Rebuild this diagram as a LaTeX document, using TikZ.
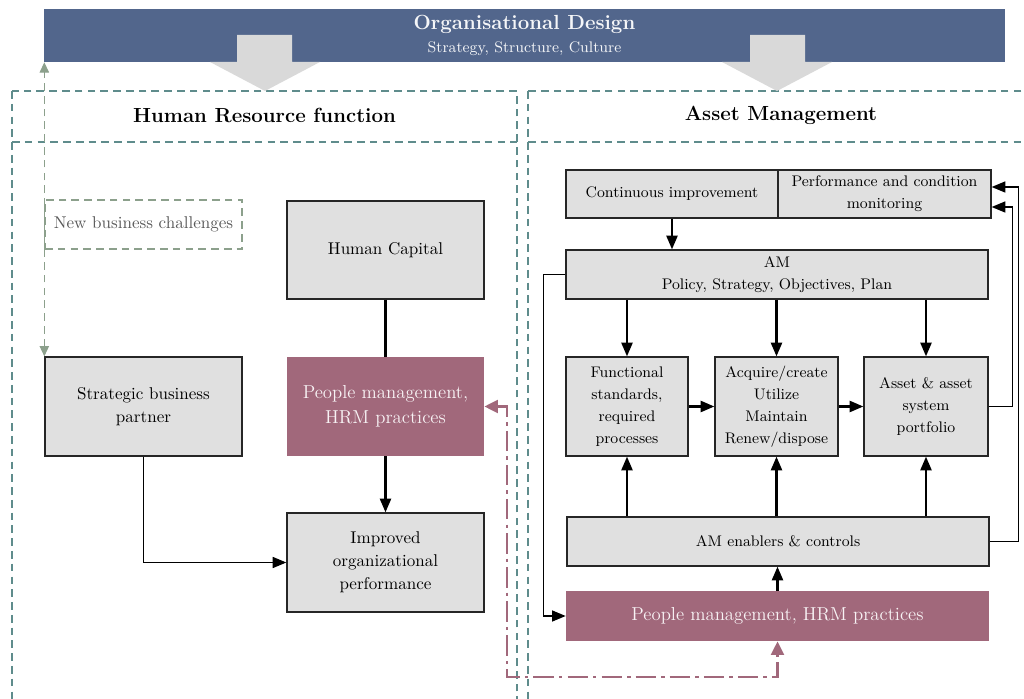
\documentclass[tikz,border=0pt]{standalone}
\usetikzlibrary{arrows.meta}
\definecolor{bannerblue}{RGB}{82,102,140}
\definecolor{hrmmauve}{RGB}{161,104,123}
\definecolor{boxgray}{RGB}{224,224,224}
\definecolor{blockgray}{RGB}{217,217,217}
\definecolor{framecol}{RGB}{95,140,140}
\definecolor{bizgreen}{RGB}{140,160,140}
\newlength\pxu
\setlength\pxu{0.587pt}
\begin{document}
\begin{tikzpicture}[x=\pxu, y=-\pxu,
    boxsize/.style 2 args={minimum width=#1\pxu, minimum height=#2\pxu},
    graybox/.style={draw=black!85, line width=0.8pt, fill=boxgray, align=center, inner sep=1pt, font=\fontsize{10}{13.5}\selectfont},
    amgraybox/.style={graybox, font=\fontsize{9}{13}\selectfont},
    hrmbox/.style={fill=hrmmauve, text=white!92!hrmmauve, align=center, inner sep=1pt, font=\fontsize{11}{14.5}\selectfont},
    frame/.style={draw=framecol, line width=0.6pt, dash pattern=on 4.5pt off 3pt},
    frametitle/.style={font=\large\bfseries},
    link/.style={-{Triangle[length=8pt,width=6.5pt]}, line width=1.2pt},
    thinlink/.style={-{Triangle[length=8pt,width=6.5pt]}, line width=0.7pt},
    hrmlink/.style={{Triangle[length=8pt,width=7.5pt]}-{Triangle[length=8pt,width=7.5pt]}, draw=hrmmauve, line width=1.6pt, dash pattern=on 12pt off 3pt on 2pt off 3pt},
    newbiz/.style={{Triangle[length=6pt,width=5.5pt]}-{Triangle[length=6pt,width=5.5pt]}, draw=bizgreen, line width=0.6pt, dash pattern=on 4.5pt off 3pt}
]
    \useasboundingbox (0,0) rectangle (1024,699);
    % Dashed frames of the two functions
    \draw[frame] (12,91) rectangle (517,720);
    \draw[frame] (12,142) -- (517,142);
    \draw[frame] (528,91) rectangle (1040,720);
    \draw[frame] (528,142) -- (1040,142);
    \node[frametitle] (hrtitle) at (264.5,115) {Human Resource function};
    \node[frametitle] (amtitle) at (781,115) {Asset Management};
    % Organisational design banner
    \node[fill=bannerblue, boxsize={961}{53}, text=white!94!bannerblue, align=center, inner sep=0pt] (orgdesign) at (524.5,35.5)
        {{\large\bfseries Organisational Design}\\[1pt]{\small Strategy, Structure, Culture}};
    % Block arrows down into both functions
    \fill[blockgray] (237,35) -- (292,35) -- (292,62) -- (320,62) -- (265,91) -- (210,62) -- (237,62) -- cycle;
    \fill[blockgray] (750,35) -- (805,35) -- (805,62) -- (832,62) -- (777,91) -- (722,62) -- (750,62) -- cycle;

    % Human Resource side
    \node[draw=bizgreen, line width=0.6pt, dash pattern=on 4.5pt off 3pt, text=black!65, boxsize={197}{49}] (challenge) at (143.5,224.5) {New business challenges};
    \node[graybox, boxsize={197}{98}] (humancap) at (385.5,250) {Human Capital};
    \node[hrmbox, boxsize={197}{99}] (peopleleft) at (385.5,406.5) {People management,\\HRM practices};
    \node[graybox, boxsize={197}{99}] (orgperf) at (385.5,562.5) {Improved\\organizational\\performance};
    \node[graybox, boxsize={197}{99}] (partner) at (143.5,406.5) {Strategic business\\partner};

    \draw[line width=1.2pt] (humancap) -- (peopleleft);
    \draw[link] (peopleleft) -- (orgperf);
    \draw[thinlink] (partner.south) |- (orgperf.west);
    \draw[newbiz] (partner.north west) -- (partner.north west |- orgdesign.south);

    % Asset Management side
    \node[amgraybox, boxsize={212}{48}] (contimp) at (672,194) {Continuous improvement};
    \node[amgraybox, boxsize={213}{48}] (monitor) at (884.5,194) {Performance and condition\\monitoring};
    \node[amgraybox, boxsize={422}{49}] (amplan) at (777,274.5) {AM\\Policy, Strategy, Objectives, Plan};
    \node[amgraybox, boxsize={122}{99}] (standards) at (627,406.5) {Functional\\standards,\\required\\processes};
    \node[amgraybox, boxsize={123}{99}] (lifecycle) at (776.5,406.5) {Acquire/create\\Utilize\\Maintain\\Renew/dispose};
    \node[amgraybox, boxsize={124}{99}] (portfolio) at (926,406.5) {Asset \& asset\\system\\portfolio};
    \node[amgraybox, boxsize={422}{49}] (enablers) at (778,541.5) {AM enablers \& controls};
    \node[hrmbox, boxsize={423}{50}] (peopleright) at (777.5,616) {People management, HRM practices};

    \draw[link] (contimp.south) -- (contimp.south |- amplan.north);
    \foreach \target in {standards, lifecycle, portfolio} {
        \draw[link] (amplan.south -| \target.north) -- (\target.north);
        \draw[link] (enablers.north -| \target.south) -- (\target.south);
    }
    \draw[link] (standards) -- (lifecycle);
    \draw[link] (lifecycle) -- (portfolio);
    \draw[link] (peopleright.north) -- (peopleright.north |- enablers.south);
    \draw[thinlink] (amplan.west) -- ++(-22,0) |- (peopleright.west);
    \draw[thinlink] (portfolio.east) -- ++(24,0) |- ([yshift=-13\pxu]monitor.east);
    \draw[thinlink] (enablers.east) -- ++(29,0) |- ([yshift=7\pxu]monitor.east);

    % HRM practices shared by both sides
    \coordinate (hrmturn) at (507,677);
    \draw[hrmlink] (peopleleft.east) -| (hrmturn) -| (peopleright.south);
\end{tikzpicture}
\end{document}
